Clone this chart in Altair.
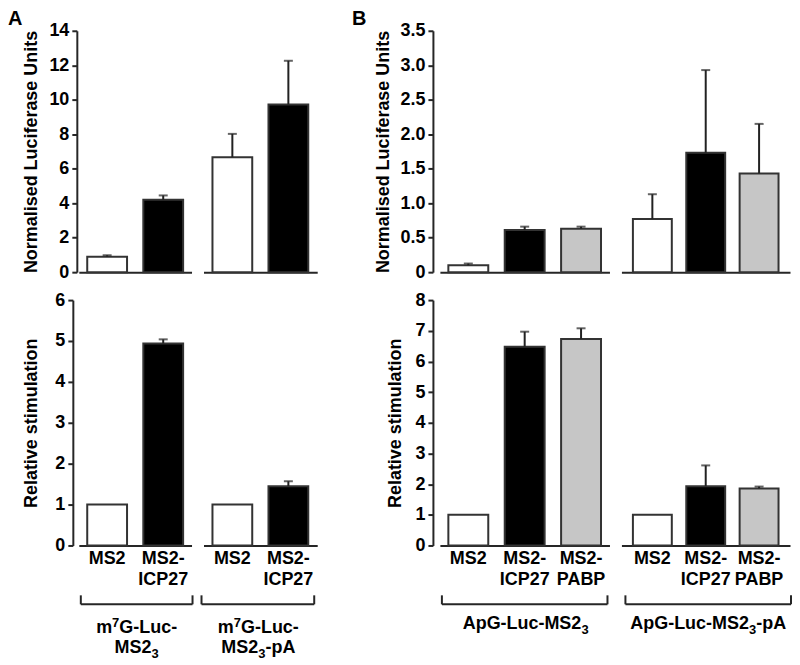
import altair as alt
import pandas as pd

FONT = "Liberation Sans"
AXIS_COLOR = "#262626"
FS = 18          # main text size
FS_SCRIPT = 13   # super/subscript size
BOLD = 700

# ---------------- data ----------------
CATS_A = ["MS2", "MS2-ICP27"]
CATS_B = ["MS2", "MS2-ICP27", "MS2-PABP"]
FILL_DOMAIN = ["MS2", "MS2-ICP27", "MS2-PABP"]
FILL_RANGE = ["#ffffff", "#000000", "#c6c6c6"]

# Panel A, top (Normalised Luciferase Units)
A_TOP_G1 = [0.89, 4.20]
A_TOP_G1_ERR = [0.98, 4.45]
A_TOP_G2 = [6.67, 9.72]
A_TOP_G2_ERR = [8.02, 12.26]
# Panel A, bottom (Relative stimulation)
A_BOT_G1 = [1.0, 4.94]
A_BOT_G1_ERR = [None, 5.04]
A_BOT_G2 = [1.0, 1.45]
A_BOT_G2_ERR = [None, 1.57]
# Panel B, top
B_TOP_G1 = [0.10, 0.61, 0.63]
B_TOP_G1_ERR = [0.125, 0.66, 0.66]
B_TOP_G2 = [0.77, 1.73, 1.43]
B_TOP_G2_ERR = [1.13, 2.93, 2.15]
# Panel B, bottom
B_BOT_G1 = [1.0, 6.48, 6.73]
B_BOT_G1_ERR = [None, 6.97, 7.08]
B_BOT_G2 = [1.0, 1.93, 1.86]
B_BOT_G2_ERR = [None, 2.61, 1.92]

A_TOP_TICKS = [0, 2, 4, 6, 8, 10, 12, 14]
A_BOT_TICKS = [0, 1, 2, 3, 4, 5, 6]
B_TOP_TICKS = [0, 0.5, 1.0, 1.5, 2.0, 2.5, 3.0, 3.5]
B_BOT_TICKS = [0, 1, 2, 3, 4, 5, 6, 7, 8]

# group labels: lines made of (text, kind) pieces; kind n=normal, sup, sub
GROUP_LABELS = [
    [[("m", "n"), ("7", "sup"), ("G-Luc-", "n")], [("MS2", "n"), ("3", "sub")]],
    [[("m", "n"), ("7", "sup"), ("G-Luc-", "n")], [("MS2", "n"), ("3", "sub"), ("-pA", "n")]],
    [[("ApG-Luc-MS2", "n"), ("3", "sub")]],
    [[("ApG-Luc-MS2", "n"), ("3", "sub"), ("-pA", "n")]],
]
Y_TITLE_TOP = "Normalised Luciferase Units"
Y_TITLE_BOT = "Relative stimulation"
PANEL_LETTERS = ["A", "B"]

TOP_H = 242
BOT_H = 246

# approximate Arial/Liberation Sans Bold advance widths (em) for centring pieces
CW = {"A": .722, "p": .611, "G": .778, "-": .333, "L": .611, "u": .611, "c": .556,
      "M": .833, "S": .667, "2": .556, "3": .556, "7": .556, "m": .889}


def tw(s, size):
    return sum(CW.get(ch, .6) for ch in s) * size


def panel(cats, vals, errs, ticks, width, height, y_title=None,
          y_offset=2, title_pad=10, pad_inner=0.29, pad_outer=0.15,
          show_labels=True, label_fmt="d", extras=None):
    df = pd.DataFrame({"cat": cats, "value": vals})
    edf = pd.DataFrame({"cat": cats, "value": vals, "err": errs}).dropna(subset=["err"])
    xs = alt.Scale(domain=cats, paddingInner=pad_inner, paddingOuter=pad_outer)
    ys = alt.Scale(domain=[ticks[0], ticks[-1]], nice=False, zero=True)
    xaxis = alt.Axis(
        title=None, domainColor=AXIS_COLOR, domainWidth=2, ticks=False,
        labels=show_labels, labelFont=FONT, labelFontSize=FS,
        labelFontWeight=BOLD, labelColor="black", labelPadding=4,
        labelAngle=0, labelLineHeight=21,
        labelExpr="indexof(datum.label, '-') > 0 ? [substring(datum.label, 0, 4), substring(datum.label, 4)] : datum.label",
    )
    if y_title is not None:
        if label_fmt == "d":
            lexpr = "format(datum.value, 'd')"
        else:
            lexpr = "datum.value == 0 ? '0' : format(datum.value, '.1f')"
        yaxis = alt.Axis(
            values=ticks, title=y_title, grid=False, offset=y_offset,
            domainColor=AXIS_COLOR, domainWidth=2, tickColor=AXIS_COLOR,
            tickWidth=2, tickSize=5, labelFont=FONT, labelFontSize=FS,
            labelFontWeight=BOLD, labelColor="black", labelPadding=3,
            labelExpr=lexpr, titleFont=FONT, titleFontSize=FS,
            titleFontWeight=BOLD, titleColor="black", titlePadding=title_pad,
        )
    else:
        yaxis = None
    x_enc = alt.X("cat:N", scale=xs, axis=xaxis)
    bars = alt.Chart(df).mark_bar(stroke="#333333", strokeWidth=2).encode(
        x=x_enc,
        y=alt.Y("value:Q", scale=ys, axis=yaxis),
        fill=alt.Fill("cat:N", scale=alt.Scale(domain=FILL_DOMAIN, range=FILL_RANGE), legend=None),
    )
    rule = alt.Chart(edf).mark_rule(color="#222222", strokeWidth=2).encode(
        x=x_enc, y=alt.Y("value:Q", scale=ys, axis=yaxis), y2=alt.Y2("err:Q"))
    cap = alt.Chart(edf).mark_tick(color="#222222", size=9, thickness=2).encode(
        x=x_enc, y=alt.Y("err:Q", scale=ys, axis=yaxis))
    layers = [bars, rule, cap]
    if extras:
        layers += extras
    return alt.layer(*layers).properties(width=width, height=height)


def rich_line(pieces, cx, y):
    widths = [tw(t, FS if k == "n" else FS_SCRIPT) for t, k in pieces]
    x = cx - sum(widths) / 2
    out = []
    for (t, k), w in zip(pieces, widths):
        size = FS if k == "n" else FS_SCRIPT
        dy = -6 if k == "sup" else (5 if k == "sub" else 0)
        out.append(alt.Chart(pd.DataFrame({"t": [t]})).mark_text(
            font=FONT, fontSize=size, fontWeight="bold", color="black",
            align="left", baseline="alphabetic").encode(
            x=alt.value(x), y=alt.value(y + dy), text="t:N"))
        x += w
    return out


def bracket(x0, x1, label_lines, lx, ly):
    one = pd.DataFrame({"k": [0]})
    base = alt.Chart(one)
    h = base.mark_rule(color=AXIS_COLOR, strokeWidth=2).encode(
        x=alt.value(x0), x2=alt.value(x1), y=alt.value(305))
    v1 = base.mark_rule(color=AXIS_COLOR, strokeWidth=2).encode(
        x=alt.value(x0), y=alt.value(296), y2=alt.value(305))
    v2 = base.mark_rule(color=AXIS_COLOR, strokeWidth=2).encode(
        x=alt.value(x1), y=alt.value(296), y2=alt.value(305))
    out = [h, v1, v2]
    for i, line in enumerate(label_lines):
        out += rich_line(line, lx, ly + 20 * i)
    return out


def letter(ch, x):
    return alt.Chart(pd.DataFrame({"t": [ch]})).mark_text(
        font=FONT, fontSize=20, fontWeight="bold", color="black",
        align="left", baseline="alphabetic").encode(
        x=alt.value(x), y=alt.value(-6), text="t:N")


def spacer(h):
    return alt.Chart(pd.DataFrame({"s": [""]})).mark_text().encode(
        x=alt.value(0), y=alt.value(0), text="s:N").properties(width=99, height=h)


a1t = panel(CATS_A, A_TOP_G1, A_TOP_G1_ERR, A_TOP_TICKS, 113, TOP_H,
            y_title=Y_TITLE_TOP, y_offset=2, title_pad=8, show_labels=False,
            extras=[letter(PANEL_LETTERS[0], -71)])
a2t = panel(CATS_A, A_TOP_G2, A_TOP_G2_ERR, A_TOP_TICKS, 114, TOP_H,
            show_labels=False, pad_outer=0.16)
b1t = panel(CATS_B, B_TOP_G1, B_TOP_G1_ERR, B_TOP_TICKS, 170, TOP_H,
            y_title=Y_TITLE_TOP, y_offset=7, title_pad=8, show_labels=False,
            label_fmt="f", pad_inner=0.292, pad_outer=0.15,
            extras=[letter(PANEL_LETTERS[1], -88)])
b2t = panel(CATS_B, B_TOP_G2, B_TOP_G2_ERR, B_TOP_TICKS, 169, TOP_H,
            show_labels=False, pad_inner=0.271, pad_outer=0.215)

a1b = panel(CATS_A, A_BOT_G1, A_BOT_G1_ERR, A_BOT_TICKS, 113, BOT_H,
            y_title=Y_TITLE_BOT, y_offset=6, title_pad=14,
            extras=bracket(2, 114, GROUP_LABELS[0], 58, 334))
a2b = panel(CATS_A, A_BOT_G2, A_BOT_G2_ERR, A_BOT_TICKS, 114, BOT_H,
            pad_outer=0.16, extras=bracket(-2, 111, GROUP_LABELS[1], 55, 334))
b1b = panel(CATS_B, B_BOT_G1, B_BOT_G1_ERR, B_BOT_TICKS, 170, BOT_H,
            y_title=Y_TITLE_BOT, y_offset=7, title_pad=10,
            pad_inner=0.292, pad_outer=0.15,
            extras=bracket(2, 168, GROUP_LABELS[2], 86, 330))
b2b = panel(CATS_B, B_BOT_G2, B_BOT_G2_ERR, B_BOT_TICKS, 169, BOT_H,
            pad_inner=0.271, pad_outer=0.215,
            extras=bracket(4, 170, GROUP_LABELS[3], 87, 330))

chart = alt.concat(
    a1t, a2t, spacer(TOP_H), b1t, b2t,
    a1b, a2b, spacer(BOT_H), b1b, b2b,
    columns=5, spacing={"row": 28, "column": 12}, bounds="flush", align="each",
).resolve_scale(fill="shared").properties(
    padding=0, background="white"
).configure_view(stroke=None).configure_axis(
    labelFont=FONT, labelFontSize=FS, labelFontWeight=BOLD, labelColor="black",
    titleFont=FONT, titleFontSize=FS, titleFontWeight=BOLD, titleColor="black",
)

try:
    chart.config.style = {
        "guide-label": {"font": FONT, "fontSize": FS, "fontWeight": BOLD, "fill": "black"},
        "guide-title": {"font": FONT, "fontSize": FS, "fontWeight": BOLD, "fill": "black"},
    }
except Exception:
    pass

chart.save("out.html", embed_options={"renderer": "svg", "actions": False})
